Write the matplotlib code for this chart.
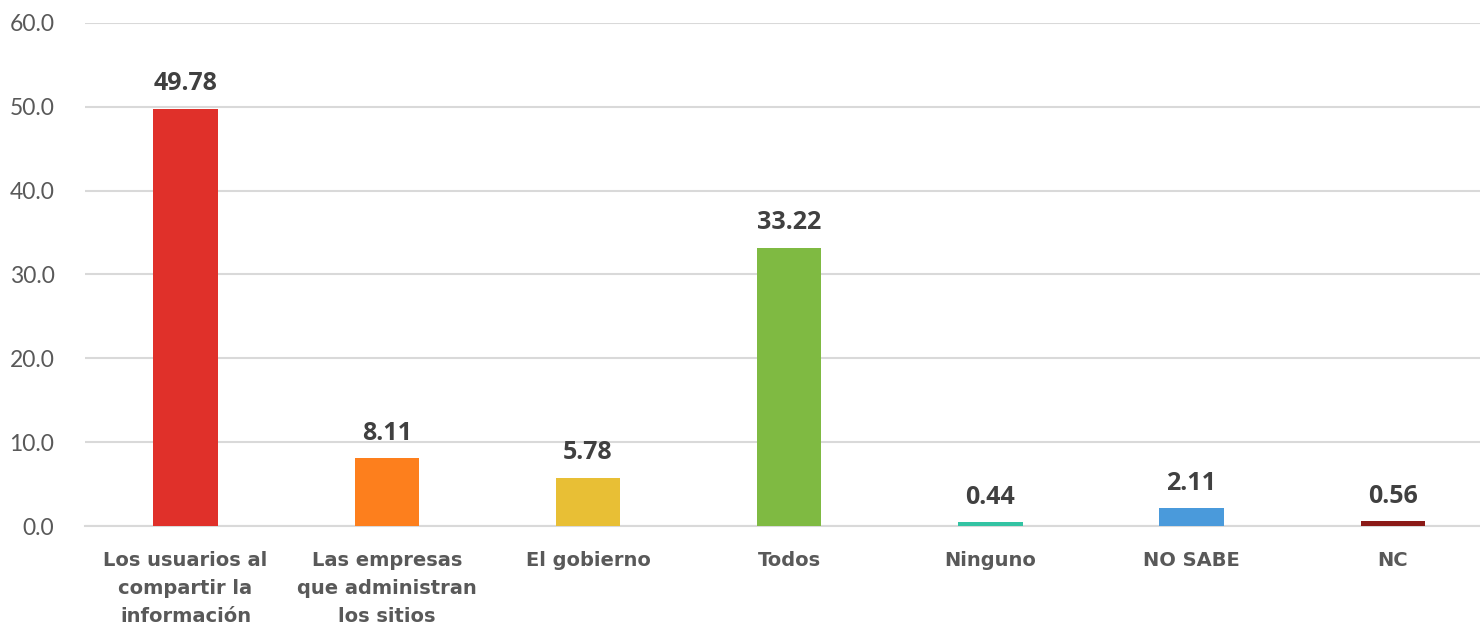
import matplotlib
matplotlib.use("Agg")
import matplotlib.pyplot as plt

categories = ["Los usuarios al\ncompartir la\ninformación",
              "Las empresas\nque administran\nlos sitios",
              "El gobierno", "Todos", "Ninguno", "NO SABE", "NC"]
values = [49.78, 8.11, 5.78, 33.22, 0.44, 2.11, 0.56]
colors = ["#E0302A", "#FD7F1D", "#E8BF35", "#7FBA42", "#33C3A3", "#4A9ADB", "#8B1A17"]
yticks = [0, 10, 20, 30, 40, 50, 60]

fig = plt.figure(figsize=(14.8, 6.28), dpi=100)
ax = fig.add_axes([0.0574, 0.1624, 0.9516, 0.801])

x = list(range(len(categories)))
bars = ax.bar(x, values, width=0.32, color=colors, zorder=3)
ax.set_xlim(-0.5, len(categories) - 0.5)
ax.set_ylim(0, 60)
ax.set_yticks(yticks)
ax.set_yticklabels([f"{v:.1f}" for v in yticks], fontsize=16.5, color="#595959",
                   family="Lato", fontweight="normal")
ax.set_xticks(x)
ax.set_xticklabels(categories, fontsize=14, color="#595959", family="DejaVu Sans",
                   fontweight="bold", linespacing=1.6)
ax.tick_params(axis="both", length=0)
ax.tick_params(axis="x", pad=18)
ax.tick_params(axis="y", pad=22)
ax.grid(axis="y", color="#D9D9D9", linewidth=1.5, zorder=0)
for s in ["top", "right", "left"]:
    ax.spines[s].set_visible(False)
ax.spines["bottom"].set_color("#D9D9D9")
ax.spines["bottom"].set_linewidth(1.5)

for xi, v in zip(x, values):
    ax.annotate(f"{v:.2f}", (xi, v), xytext=(0, 9), textcoords="offset points",
                ha="center", va="bottom", fontsize=18, fontweight="bold",
                color="#404040", family="Open Sans")

fig.savefig("out.png", dpi=100)
